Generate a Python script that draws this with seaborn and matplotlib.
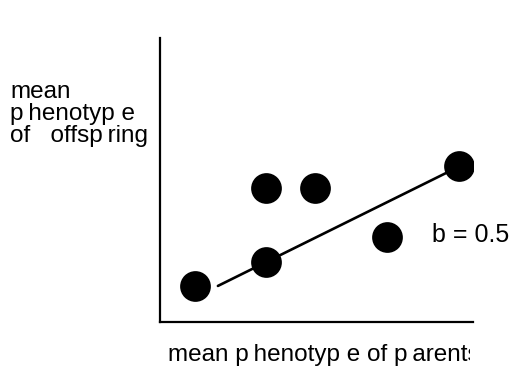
import matplotlib.pyplot as plt
import pandas as pd
import seaborn as sns
from matplotlib.transforms import Bbox

# points (arbitrary 0-10 units)
parent_mean = [1.12, 3.39, 3.39, 4.95, 7.25, 9.55]
offspring_mean = [1.27, 2.11, 4.72, 4.72, 2.99, 5.49]

# regression line end points
line_x = [1.85, 9.33]
line_y = [1.27, 5.35]

SLOPE_LABEL = "b = 0.5"
X_LABEL = "mean p\u2009henotyp e of p\u2009arents"
Y_LABEL = "mean\np\u2009henotyp e\nof   offsp\u2009ring"


def main() -> None:
    sns.set_style("white")
    plt.rcParams["font.family"] = ["Liberation Sans", "DejaVu Sans"]

    fig = plt.figure(figsize=(5.15, 3.7), dpi=100)
    ax = fig.add_axes([160 / 515, 48 / 370, 313 / 515, 284 / 370])

    points = pd.DataFrame({"x": parent_mean, "y": offspring_mean})
    line = pd.DataFrame({"x": line_x, "y": line_y})

    sns.lineplot(data=line, x="x", y="y", color="black", linewidth=1.9, ax=ax)
    sns.scatterplot(data=points, x="x", y="y", s=420, color="black",
                    edgecolor="black", zorder=3, ax=ax)

    ax.set_xlim(0, 10)
    ax.set_ylim(0, 10)
    ax.set_xticks([])
    ax.set_yticks([])
    ax.set_xlabel("")
    ax.set_ylabel("")
    sns.despine(ax=ax)
    for side in ("left", "bottom"):
        ax.spines[side].set_linewidth(1.6)
        ax.spines[side].set_color("black")

    ax.text(432 / 515, 1 - 235 / 370, SLOPE_LABEL, fontsize=18,
            va="center", ha="left", color="black", transform=fig.transFigure)

    # the reference cuts the last letter of the x label
    xlab = fig.text(168 / 515, 1 - 355 / 370, X_LABEL, fontsize=17.5,
                    va="center", ha="left", color="black")
    xlab.set_clip_box(Bbox([[0, 0], [470, 370]]))
    xlab.set_clip_on(True)

    fig.text(10 / 515, 1 - 114 / 370, Y_LABEL, fontsize=17.5,
             va="center", ha="left", linespacing=0.98, color="black")

    fig.savefig("out.png", dpi=100)


if __name__ == "__main__":
    main()
